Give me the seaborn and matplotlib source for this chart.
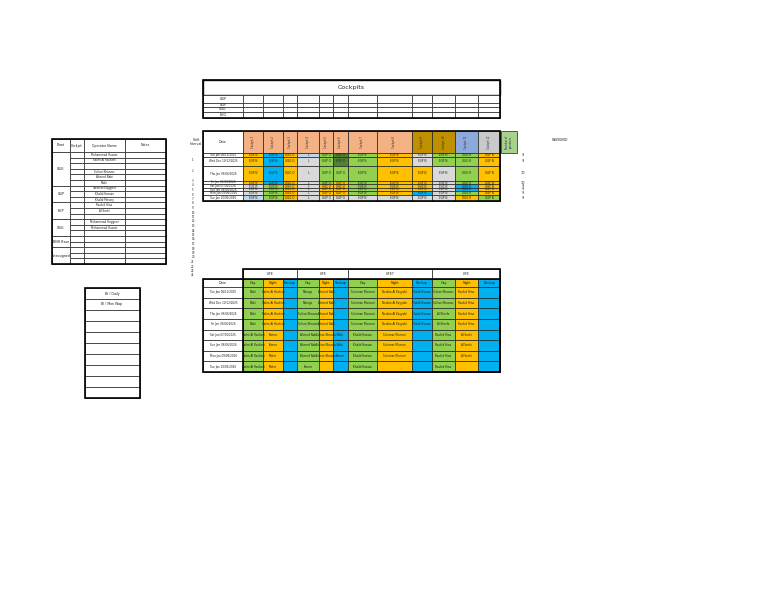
import numpy as np
import matplotlib
matplotlib.use("Agg")
import matplotlib.pyplot as plt
import seaborn as sns

sns.set_style("white")
plt.rcParams['font.family'] = ['DejaVu Sans']

# ---- data ----
col_edges = [243, 263, 283, 297, 319, 333, 348, 377, 412, 432, 455, 478, 500]
main_row_edges = [153, 157, 166, 181, 184, 188, 191, 195, 201]
main_dates = ["Tue Jan 06/12/2025", "Wed Dec 10/12/2025", "Thu Jan 06/06/2026", "Fri Jan 06/06/2026",
              "Sat Jan 07/06/2026", "Sun Jan 08/06/2026", "Mon Jan 09/06/2026", "Tue Jan 10/06/2026"]
main_cells = [
    "OBOXGKGOLGGO",
    "OBOLGKGOLGGO",
    "OBOLGGGOOLGO",
    "OBOLGOGOOLGO",
    "LGOLOOGOOLBO",
    "LGOLOOGOOLBO",
    "LGOLOOGOBLGO",
    "XGOLLLLLLLOG",
]
main_text = ["EGP N", "EGP N", "GGG O", "L", "GGP O", "GGP O", "EGP N", "EGP N", "EGP N", "EGP N", "OGG R", "GGP N"]
header_colors = ["S"] * 8 + ["Y", "Y", "P", "H"]
right_counts = ["9", "9", "10", "10", "9", "9", "9", "9"]

bottom_groups = ["LIFE", "LIFE", "LIFE7", "LIFE"]
bottom_sub = ["Day", "Night", "Backup"] * 4
bottom_dates = main_dates
bottom_day1 = ["Mubi", "Mubi", "Mubi", "Mubi", "Salim Al Rashimi", "Salim Al Rashimi", "Salim Al Rashimi", "Salim Al Rashimi"]
bottom_night1 = ["Salim Al Hashimi", "Salim Al Hashimi", "Salim Al Hashimi", "Salim Al Hashimi", "Kumar", "Kumar", "Maker", "Maker"]
bottom_day2 = ["Morugo", "Morugo", "Sultan Khanzai", "Sultan Khanzai", "Ahmed Nabi", "Ahmed Nabi", "Ahmed Nabi", "Kumar"]
bottom_night2 = ["Ahmed Nabi", "Ahmed Nabi", "Ahmed Nabi", "Ahmed Nabi", "Sultan Khanzai", "Sultan Khanzai", "Sultan Khanzai", ""]
bottom_backup2 = ["", "", "", "", "Mubi", "Mubi", "Kumar", ""]
bottom_day3 = ["Suleman Mansuri"] * 4 + ["Khalid Hassan"] * 4
bottom_night3 = ["Noufan Al Kayyabi"] * 4 + ["Sulemar Mumari"] * 3 + [""]
bottom_backup3 = ["Khalid Hassan"] * 4 + [""] * 4
bottom_day4 = ["Sultan Khanzai", "Sultan Khanzai", "Al Sherfe", "Al Sherfe", "Rashid Hina", "Rashid Hina", "Rashid Hina", "Rashid Hina"]
bottom_night4 = ["Rashid Hina"] * 4 + ["Al Sarhi"] * 3 + [""]

left_plants = ["GGG", "GGP", "EGP", "OGG", "BNH Base", "Unassigned"]
left_ops = ["Mohammad Husain", "Salim Al Rashimi", "", "Sultan Khanzai", "Ahmed Nabi", "Mubi",
            "Ibrahim Haggeer", "Khalid Hassan", "Khalid Messry", "Rashid Hina", "Al Sarhi", "",
            "Mohammad Haggeer", "Mohammad Husain", "", "", "", "", "", ""]
list_items = ["BI / Daily", "BI / Mon Wap", "", "", "", "", "", "", "", ""]

cmap = {"O": "#FFC000", "B": "#00B0F0", "G": "#92D050", "K": "#548235", "L": "#D9D9D9",
        "X": "#BDD7EE", "S": "#F4B183", "Y": "#BF9000", "P": "#8EA9DB", "H": "#C9C9C9"}

fig = plt.figure(figsize=(7.68, 5.94), dpi=100)
ax = fig.add_axes([0, 0, 1, 1])
ax.set_xlim(0, 768)
ax.set_ylim(594, 0)
ax.axis("off")
FS = 2.3

def rect(x0, y0, x1, y1, fc="white", lw=0.5):
    ax.add_patch(plt.Rectangle((x0, y0), x1 - x0, y1 - y0, fc=fc, ec="#222222", lw=lw))

def txt(x, y, s, fs=FS, **k):
    ax.text(x, y, s, fontsize=fs, ha="center", va="center", color="#222222", **k)

# ---- top table ----
rect(203, 80, 500, 95, lw=1)
txt(351, 87, "Cockpits", fs=4.5)
top_rows = [95, 103, 107, 112, 118]
for i in range(4):
    rect(203, top_rows[i], 243, top_rows[i + 1])
    txt(223, (top_rows[i] + top_rows[i + 1]) / 2, ["GGP", "GGP", "OGG", "EGG"][i])
    for j in range(12):
        rect(col_edges[j], top_rows[i], col_edges[j + 1], top_rows[i + 1])
ax.add_patch(plt.Rectangle((203, 80), 297, 38, fill=False, ec="black", lw=1.2))

# ---- main grid ----
rect(203, 131, 243, 153)
txt(223, 142, "Date")
for j in range(12):
    rect(col_edges[j], 131, col_edges[j + 1], 153, fc=cmap[header_colors[j]])
    txt((col_edges[j] + col_edges[j + 1]) / 2, 142, "Cockpit %d" % (j + 1), fs=1.8, rotation=90)
rect(501, 131, 517, 153, fc="#A9D18E")
txt(509, 142, "Number of\noperators", fs=1.8, rotation=90)
for i, row in enumerate(main_cells):
    y0, y1 = main_row_edges[i], main_row_edges[i + 1]
    rect(203, y0, 243, y1)
    txt(223, (y0 + y1) / 2, main_dates[i], fs=2)
    for j in range(12):
        rect(col_edges[j], y0, col_edges[j + 1], y1, fc=cmap[row[j]])
        txt((col_edges[j] + col_edges[j + 1]) / 2, (y0 + y1) / 2, main_text[j], fs=2)
    txt(523, (y0 + y1) / 2, right_counts[i], fs=2.5)
ax.add_patch(plt.Rectangle((203, 131), 297, 70, fill=False, ec="black", lw=1.2))
txt(196, 142, "Shift\nInterval", fs=2.3)
for n in range(1, 25):
    y = 160 + (n - 1) * 4.55 if n > 2 else [160, 171][n - 1]
    if n > 2:
        y = 181 + (n - 3) * 4.5
    txt(193, y, str(n), fs=2)
txt(560, 140, "WEEKEND", fs=2.3)

# ---- left table ----
lx = [52, 70, 84, 125, 166]
for j, h in enumerate(["Plant", "Cockpit", "Operator Name", "Notes"]):
    rect(lx[j], 139, lx[j + 1], 152)
    txt((lx[j] + lx[j + 1]) / 2, 145.5, h)
op_edges = np.linspace(152, 264, 21)
for i in range(20):
    for j in range(1, 4):
        rect(lx[j], op_edges[i], lx[j + 1], op_edges[i + 1])
    txt(104.5, (op_edges[i] + op_edges[i + 1]) / 2, left_ops[i], fs=2)
plant_spans = [(0, 6), (6, 9), (9, 12), (12, 15), (15, 17), (17, 20)]
for (a, b), p in zip(plant_spans, left_plants):
    rect(52, op_edges[a], 70, op_edges[b])
    txt(61, (op_edges[a] + op_edges[b]) / 2, p)
ax.add_patch(plt.Rectangle((52, 139), 114, 125, fill=False, ec="black", lw=1.2))

# ---- bottom schedule ----
groups = [(243, 297), (297, 348), (348, 432), (432, 500)]
for (a, b), g in zip(groups, bottom_groups):
    rect(a, 269, b, 279)
    txt((a + b) / 2, 274, g)
rect(203, 279, 243, 287)
txt(223, 283, "Date")
sub_colors = ["G", "O", "B"] * 4
for j in range(12):
    rect(col_edges[j], 279, col_edges[j + 1], 287, fc=cmap[sub_colors[j]])
    txt((col_edges[j] + col_edges[j + 1]) / 2, 283, bottom_sub[j])
b_edges = np.linspace(287, 372, 9)
cols_text = [bottom_day1, bottom_night1, [""] * 8, bottom_day2, bottom_night2, bottom_backup2,
             bottom_day3, bottom_night3, bottom_backup3, bottom_day4, bottom_night4, [""] * 8]
for i in range(8):
    y0, y1 = b_edges[i], b_edges[i + 1]
    rect(203, y0, 243, y1)
    txt(223, (y0 + y1) / 2, bottom_dates[i], fs=2)
    for j in range(12):
        rect(col_edges[j], y0, col_edges[j + 1], y1, fc=cmap[sub_colors[j]])
        txt((col_edges[j] + col_edges[j + 1]) / 2, (y0 + y1) / 2, cols_text[j][i], fs=2)
ax.add_patch(plt.Rectangle((203, 279), 297, 93, fill=False, ec="black", lw=1.2))
ax.add_patch(plt.Rectangle((243, 269), 257, 103, fill=False, ec="black", lw=1.2))

# ---- small list ----
l_edges = np.linspace(288, 398, 11)
for i in range(10):
    rect(85, l_edges[i], 140, l_edges[i + 1])
    txt(112, (l_edges[i] + l_edges[i + 1]) / 2, list_items[i])
ax.add_patch(plt.Rectangle((85, 288), 55, 110, fill=False, ec="black", lw=1.2))

fig.savefig("out.png", dpi=100, facecolor="white")
